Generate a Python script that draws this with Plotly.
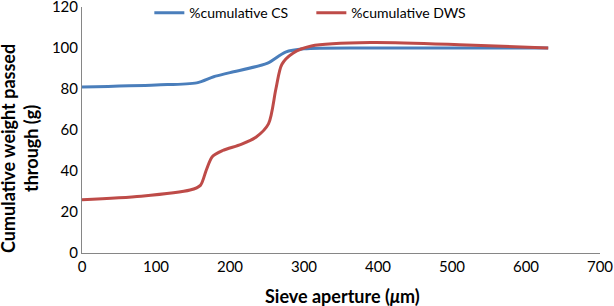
import plotly.graph_objects as go

# Data
cs_x = [0, 100, 155, 178, 200, 250, 275, 300, 400, 630]
cs_y = [81, 82, 83, 86, 88, 92.5, 98, 99.6, 100, 100]

dws_x = [0, 80, 146, 160, 168, 176, 190, 215, 235, 252, 262, 270, 285, 310, 390, 520, 630]
dws_y = [26, 27.7, 30.7, 33, 40.5, 47, 50, 53, 56.5, 63, 80, 92, 97.5, 101, 102.7, 101.5, 100]

x_ticks = [0, 100, 200, 300, 400, 500, 600, 700]
y_ticks = [0, 20, 40, 60, 80, 100, 120]

FONT = "Lato, Carlito, Calibri, sans-serif"

fig = go.Figure()
fig.add_trace(go.Scatter(x=cs_x, y=cs_y, mode="lines", name="%cumulative CS",
                         line=dict(color="#4A7EBB", width=3, shape="spline", smoothing=0.8)))
fig.add_trace(go.Scatter(x=dws_x, y=dws_y, mode="lines", name="%cumulative DWS",
                         line=dict(color="#BE4B48", width=3, shape="spline", smoothing=0.8)))

fig.update_layout(
    width=614, height=306,
    margin=dict(l=82, r=14, t=7, b=53, autoexpand=False),
    paper_bgcolor="white", plot_bgcolor="white",
    font=dict(family=FONT, size=15, color="#000000"),
    showlegend=True,
    legend=dict(orientation="h", x=0.13, y=0.975, xanchor="left", yanchor="middle",
                font=dict(family=FONT, size=14), bgcolor="rgba(255,255,255,0)",
                itemwidth=30, entrywidth=117, tracegroupgap=0),
    xaxis=dict(range=[0, 700], tickvals=x_ticks, ticktext=[str(v) for v in x_ticks],
               showgrid=False, zeroline=False, showline=True, linecolor="#868686", linewidth=1,
               ticks="", tickfont=dict(size=15), automargin=False, ticklabeloverflow="allow"),
    yaxis=dict(range=[0, 120], tickvals=y_ticks, ticktext=[str(v) for v in y_ticks],
               showgrid=False, zeroline=False, showline=True, linecolor="#868686", linewidth=1,
               ticks="", tickfont=dict(size=15), automargin=False, ticklabeloverflow="allow"),
    annotations=[
        dict(text="<b>Sieve aperture (<i>μ</i>m)</b>", xref="paper", yref="paper",
             x=0.502, y=-0.175, xanchor="center", yanchor="middle", showarrow=False,
             font=dict(family=FONT, size=18)),
        dict(text="<b>Cumulative weight passed<br>through (g)</b>", xref="paper", yref="paper",
             x=-0.1197, y=0.427, xanchor="center", yanchor="middle", showarrow=False,
             textangle=-90, font=dict(family=FONT, size=18)),
    ],
)

fig.write_html("out.html", config={"displayModeBar": False},
               post_script="document.body.style.margin='0';document.body.style.overflow='hidden';")
